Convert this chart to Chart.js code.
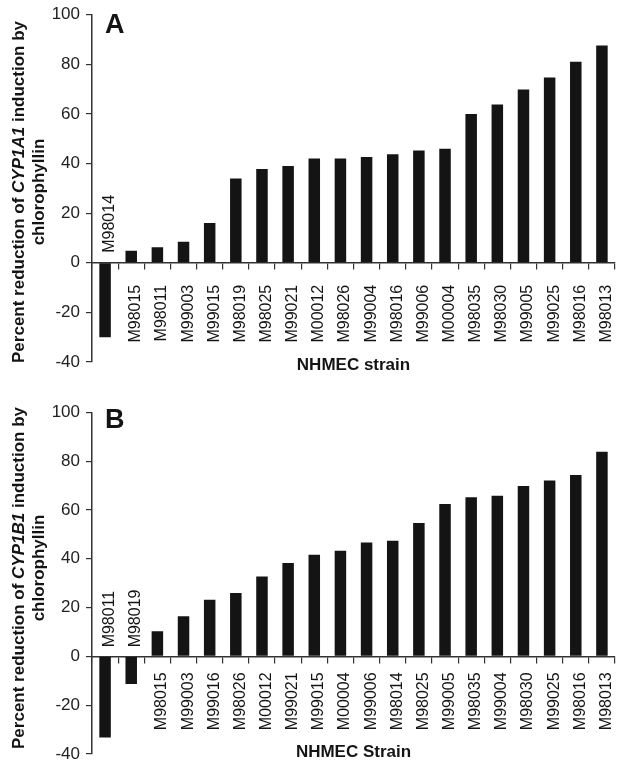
<!DOCTYPE html>
<html>
<head>
<meta charset="utf-8">
<script src="https://cdn.jsdelivr.net/npm/chart.js@4"></script>
<style>
  html, body { margin: 0; padding: 0; background: #fff; }
  .panel { position: absolute; left: 0; width: 624px; height: 383px; }
</style>
</head>
<body>
<div class="panel" style="top:0"><canvas id="chartA" width="624" height="383"></canvas></div>
<div class="panel" style="top:383px"><canvas id="chartB" width="624" height="383"></canvas></div>
<script>
// panel A: CYP1A1
const strainsA = ['M98014', 'M98015', 'M98011', 'M99003', 'M99015', 'M98019', 'M98025', 'M99021', 'M00012', 'M98026',
                  'M99004', 'M98016', 'M99006', 'M00004', 'M98035', 'M98030', 'M99005', 'M99025', 'M98016', 'M98013'];
const valuesA = [-30, 4.8, 6.3, 8.5, 16, 34, 37.8, 39, 42, 42, 42.6, 43.7, 45.3, 46, 60, 63.8, 69.8, 74.7, 81, 87.6];

// panel B: CYP1B1
const strainsB = ['M98011', 'M98019', 'M98015', 'M99003', 'M99016', 'M98026', 'M00012', 'M99021', 'M99015', 'M00004',
                  'M99006', 'M98014', 'M98025', 'M99005', 'M98035', 'M99004', 'M98030', 'M99025', 'M98016', 'M98013'];
const valuesB = [-33.2, -11.3, 10.3, 16.4, 23.2, 26, 32.7, 38.3, 41.6, 43.3, 46.7, 47.4, 54.6, 62.4, 65.2, 65.8, 69.8, 72.1, 74.3, 83.8];

const yMin = -40;
const yMax = 100;
const yStep = 20;

const FONT = "'Liberation Sans', Arial, Helvetica, sans-serif";
const INK = '#141414';

// draws strain names, panel letter, axis titles
const panelText = {
    id: 'panelText',
    afterDraw(chart, args, opts) {
        const ctx = chart.ctx;
        const xs = chart.scales.x;
        const ys = chart.scales.y;
        const area = chart.chartArea;
        const y0 = ys.getPixelForValue(0);
        const labels = chart.data.labels;
        const vals = chart.data.datasets[0].data;

        ctx.save();
        ctx.fillStyle = INK;
        ctx.textBaseline = 'alphabetic';
        ctx.font = '16px ' + FONT;
        labels.forEach((lab, i) => {
            const px = xs.getPixelForValue(i) + 9;
            const neg = vals[i] < 0;
            ctx.save();
            ctx.translate(px, neg ? y0 - opts.gapUp : y0 + opts.gapDown);
            ctx.rotate(-Math.PI / 2);
            ctx.textAlign = neg ? 'left' : 'right';
            ctx.fillText(lab, 0, 0);
            ctx.restore();
        });

        // panel letter
        ctx.textAlign = 'left';
        ctx.font = 'bold 27px ' + FONT;
        ctx.fillText(opts.letter, 105, opts.letterY);

        // x title
        ctx.textAlign = 'center';
        ctx.font = 'bold 17px ' + FONT;
        ctx.fillText(opts.xTitle, (area.left + area.right) / 2, opts.xTitleY);

        // y title, two lines, gene name in italics
        const parts = [
            ['Percent reduction of ', 'bold'],
            [opts.gene, 'italic bold'],
            [' induction by', 'bold']
        ];
        let total = 0;
        parts.forEach(p => { ctx.font = p[1] + ' 17px ' + FONT; total += ctx.measureText(p[0]).width; });
        ctx.save();
        ctx.translate(24, opts.yTitleC1);
        ctx.rotate(-Math.PI / 2);
        ctx.textAlign = 'left';
        let pos = -total / 2;
        parts.forEach(p => {
            ctx.font = p[1] + ' 17px ' + FONT;
            ctx.fillText(p[0], pos, 0);
            pos += ctx.measureText(p[0]).width;
        });
        ctx.restore();
        ctx.save();
        ctx.translate(44, opts.yTitleC2);
        ctx.rotate(-Math.PI / 2);
        ctx.textAlign = 'center';
        ctx.font = 'bold 17px ' + FONT;
        ctx.fillText('chlorophyllin', 0, 0);
        ctx.restore();
        ctx.restore();
    }
};

function buildChart(id, labels, values, cfg) {
    return new Chart(document.getElementById(id), {
        type: 'bar',
        data: {
            labels: labels,
            datasets: [{
                data: values,
                backgroundColor: INK,
                barPercentage: 0.44,
                categoryPercentage: 1
            }]
        },
        options: {
            responsive: false,
            animation: false,
            layout: { padding: { top: cfg.padTop, bottom: cfg.padBottom, left: 0, right: 9 } },
            plugins: {
                legend: { display: false },
                tooltip: { enabled: false },
                panelText: cfg
            },
            scales: {
                x: {
                    position: { y: 0 },
                    ticks: { display: false },
                    grid: { drawOnChartArea: false, drawTicks: true, tickLength: 6, color: '#333', lineWidth: 1.2, offset: true },
                    border: { color: '#333', width: 1.5 }
                },
                y: {
                    min: yMin,
                    max: yMax,
                    ticks: {
                        stepSize: yStep,
                        padding: 6,
                        color: '#222',
                        font: { family: FONT, size: 17 }
                    },
                    grid: { drawOnChartArea: false, drawTicks: true, tickLength: 6, color: '#333', lineWidth: 1.2 },
                    border: { color: '#333', width: 1.5 },
                    afterFit: s => {
                        s.width = 92;
                        s.paddingTop = 0;
                        s.paddingBottom = 0;
                    }
                }
            }
        },
        plugins: [panelText]
    });
}

buildChart('chartA', strainsA, valuesA, {
    letter: 'A', gene: 'CYP1A1', xTitle: 'NHMEC strain',
    padTop: 14.7, padBottom: 21,
    gapDown: 22, gapUp: 10,
    letterY: 33, xTitleY: 370,
    yTitleC1: 192, yTitleC2: 192
});

buildChart('chartB', strainsB, valuesB, {
    letter: 'B', gene: 'CYP1B1', xTitle: 'NHMEC Strain',
    padTop: 29.3, padBottom: 12,
    gapDown: 16, gapUp: 9,
    letterY: 45, xTitleY: 374,
    yTitleC1: 195, yTitleC2: 185
});
</script>
</body>
</html>
